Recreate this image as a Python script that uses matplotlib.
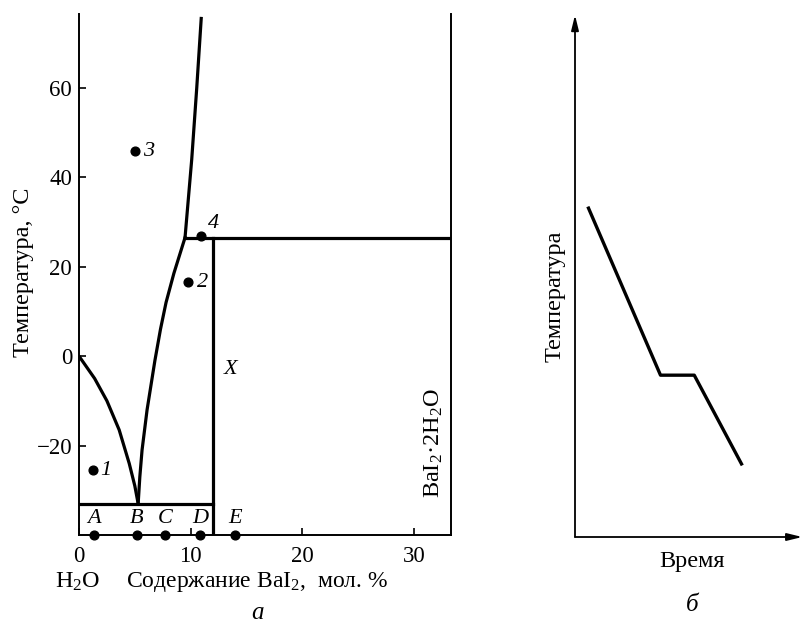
import matplotlib
matplotlib.use("Agg")
import matplotlib.pyplot as plt

plt.rcParams['font.family'] = ['Liberation Serif', 'DejaVu Serif']
plt.rcParams['mathtext.fontset'] = 'custom'
plt.rcParams['mathtext.rm'] = 'Liberation Serif'
plt.rcParams['mathtext.it'] = 'Liberation Serif:italic'

# ---- Data: phase diagram H2O - BaI2 ----
ice_x = [0, 0.7, 1.4, 2.5, 3.6, 4.5, 5.0, 5.3]
ice_t = [0, -2.5, -5, -10, -16.5, -24, -29, -33]
hexa_x = [5.3, 5.45, 5.65, 6.1, 6.8, 7.3, 7.8, 8.5, 9.5]
hexa_t = [-33, -27, -21, -12, -1, 6, 12, 18.5, 26.5]
di_x = [9.5, 10.1, 10.55, 10.95]
di_t = [26.5, 44, 60, 75.5]
eutectic_t = -33
eutectic_x = [0, 12]
peritectic_t = 26.5
peritectic_x = [9.5, 33.33]
hexa_comp = 12
hexa_t_range = [-40, 26.5]
dihydrate_comp = 33.33

point_labels = ['1', '2', '3', '4']
point_x = [1.23, 9.8, 5.03, 10.93]
point_t = [-25.5, 16.5, 45.8, 26.8]

comp_labels = ['A', 'B', 'C', 'D', 'E']
comp_x = [1.38, 5.18, 7.73, 10.87, 14.0]

xticks = [0, 10, 20, 30]
yticks = [-20, 0, 20, 40, 60]

# ---- Data: cooling curve ----
time = [0.6, 3.8, 5.3, 7.4]
temp = [6.3, 3.1, 3.1, 1.4]

W, H = 805, 625
fig = plt.figure(figsize=(W / 100, H / 100), dpi=100)

def fx(px):
    return px / W

def fy(py):
    return 1 - py / H

TXT = 17.5
TICK = 16.5
LET = 16

# Left panel
ax = fig.add_axes([fx(79), fy(535), fx(451) - fx(79), fy(14) - fy(535)])
ax.set_xlim(0, dihydrate_comp)
ax.set_ylim(-40, 76.5)
lw = 2.3
ax.plot(ice_x, ice_t, color='black', lw=lw, solid_capstyle='butt')
ax.plot(hexa_x, hexa_t, color='black', lw=lw, solid_joinstyle='round')
ax.plot(di_x, di_t, color='black', lw=lw)
ax.plot(eutectic_x, [eutectic_t, eutectic_t], color='black', lw=lw)
ax.plot(peritectic_x, [peritectic_t, peritectic_t], color='black', lw=lw)
ax.plot([hexa_comp, hexa_comp], hexa_t_range, color='black', lw=lw)

ax.plot(point_x, point_t, 'o', color='black', ms=6.3, zorder=5)
ax.plot(comp_x, [-40] * len(comp_x), 'o', color='black', ms=6.3, zorder=6, clip_on=False)

label_off = {'1': (0.7, 0), '2': (0.75, 0), '3': (0.75, 0), '4': (0.65, 2.8)}
for lbl, x, t in zip(point_labels, point_x, point_t):
    dx, dy = label_off[lbl]
    ax.text(x + dx, t + dy, lbl, style='italic', fontsize=LET, ha='left', va='center')
for lbl, x in zip(comp_labels, comp_x):
    ax.text(x, -36.4, lbl, style='italic', fontsize=LET, ha='center', va='center')
ax.text(13.6, -3, 'X', style='italic', fontsize=LET, ha='center', va='center')
ax.text(31.75, -19.4, 'BaI$_2$·2H$_2$O', rotation=90, fontsize=TXT, ha='center', va='center')

ax.spines['top'].set_visible(False)
for s in ['left', 'bottom', 'right']:
    ax.spines[s].set_linewidth(1.4)
ax.set_xticks(xticks)
ax.set_yticks(yticks)
ax.set_yticklabels(['\u221220', '0', '20', '40', '60'])
ax.tick_params(direction='in', length=5, width=1.2, labelsize=TICK, right=False, top=False)
ax.tick_params(axis='x', pad=8)
ax.tick_params(axis='y', pad=5)

fig.text(fx(23), fy(272), 'Температура, °C', rotation=90, fontsize=TXT, ha='center', va='center')
fig.text(fx(78), fy(582), 'H$_2$O', fontsize=TXT, ha='center', va='center')
fig.text(fx(257), fy(582), 'Содержание BaI$_2$,  мол. %', fontsize=17, ha='center', va='center')
fig.text(fx(257), fy(613), 'а', style='italic', fontsize=18, ha='center', va='center')

# Right panel
ax2 = fig.add_axes([fx(575), fy(537), fx(800) - fx(575), fy(15) - fy(537)])
ax2.set_xlim(0, 10)
ax2.set_ylim(0, 10)
ax2.axis('off')
ax2.plot(time, temp, color='black', lw=2.4)
arrow = dict(arrowstyle='-|>,head_length=0.9,head_width=0.22', lw=1.3, color='black', shrinkA=0, shrinkB=0)
ax2.annotate('', xy=(0, 1), xytext=(0, 0), xycoords='axes fraction', arrowprops=arrow)
ax2.annotate('', xy=(1.01, 0), xytext=(0, 0), xycoords='axes fraction', arrowprops=arrow)

fig.text(fx(555), fy(296), 'Температура', rotation=90, fontsize=TXT, ha='center', va='center')
fig.text(fx(692), fy(562), 'Время', fontsize=TXT, ha='center', va='center')
fig.text(fx(692), fy(605), 'б', style='italic', fontsize=18, ha='center', va='center')

fig.savefig('out.png', dpi=100)
